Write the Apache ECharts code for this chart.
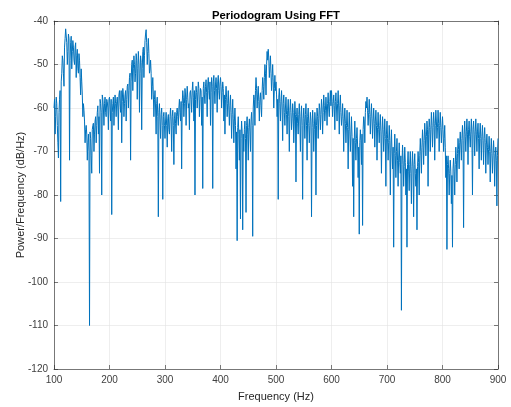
<!DOCTYPE html>
<html>
<head>
<meta charset="utf-8">
<script src="https://cdn.jsdelivr.net/npm/echarts@6/dist/echarts.min.js"></script>
<style>html,body{margin:0;padding:0;background:#fff;}#c{width:511px;height:407px;}</style>
</head>
<body>
<div id="c"></div>
<script>
// Frequency grid: 100 Hz to 900 Hz, 1 Hz step (even bins and odd bins kept in separate arrays)
const freqStart = 100;
const freqStep = 1;
const xTicks = [100, 200, 300, 400, 500, 600, 700, 800, 900];
const yTicks = [-120, -110, -100, -90, -80, -70, -60, -50, -40];

// Power/Frequency (dB/Hz) at even frequencies (100, 102, ... 900)
const p100 = [-60,-66,-57.5,-64,-71.5,-58,-81.5,-52,-49,-55,-44,-42,-50,-43,-72,-45,-51,-44.5,-49,-46,-53,-46.5,-52,-49,-57,-54,-62,-60.5,-68,-64,-72,-66,-110,-67,-75,-64,-70,-63,-68,-61,-66,-75,-59,-80,-58,-64,-57.5,-62,-58.5,-65];
const p200 = [-57.5,-63,-84.5,-59,-64,-57,-62,-57.5,-65,-56,-61,-68,-55.5,-62,-57,-63,-55,-60,-53,-72,-50,-56,-48,-54,-47.5,-58,-47,-61,-48,-65,-47,-53,-44.5,-42,-50,-44,-52,-49,-58,-53,-62,-56,-66,-57.5,-85,-59,-67,-60,-81,-61];
const p300 = [-67,-61,-69,-61.5,-66,-60,-70,-60.5,-73,-61,-66,-60,-64,-58,-63,-74,-56,-62,-55.5,-64,-55,-60,-65,-56,-61,-54,-63,-80,-55,-60,-54,-62,-55.5,-64,-78.5,-54,-59,-53.5,-62,-53,-58,-64,-53,-78.5,-52.5,-59,-53,-61,-52.5,-58];
const p400 = [-53,-60,-54,-63,-66,-55,-62,-56,-64,-57,-67,-58,-68,-60,-74,-90.5,-62,-72,-85.5,-63,-88,-70,-63,-84,-62,-72,-62.5,-70,-61,-89.5,-57,-64,-53,-60,-55,-63,-56.5,-62,-53,-58,-50,-57,-47,-46.5,-53,-48,-56,-50,-60,-52.5];
const p500 = [-54,-62,-81,-55.5,-63,-56,-67.5,-57,-64,-57.5,-66,-58,-70,-58,-65,-59,-68,-58.5,-77,-60,-66,-59,-70,-59.5,-81,-60,-67,-59,-72,-60,-68,-61,-85,-60.5,-70,-61,-80,-60,-67,-59,-65,-58,-66,-57,-63,-57.5,-64,-56.5,-62,-56];
const p600 = [-56,-62,-57,-65,-56.5,-63,-56,-66,-57,-64,-59,-70,-60,-68,-60.5,-74,-61,-70,-62,-78,-85,-63,-72,-64.5,-76,-89,-65,-73,-87,-62,-68,-58.5,-57.5,-64,-58,-66,-59,-67,-60,-69,-60.5,-72,-61,-68,-61.5,-75,-62,-70,-62.5,-78];
const p700 = [-63,-72,-64,-80,-65,-74,-92,-66,-76,-67,-78,-68,-75,-106.5,-68.5,-78,-69,-80,-92,-70,-79,-70,-82,-70,-85,-70.5,-78,-88,-70,-80,-67,-75,-65,-73,-63.5,-71,-63,-78,-62.5,-70,-61,-69,-61,-72,-60.5,-67,-60.5,-70,-61,-68];
const p800 = [-62,-70,-64,-76,-92.5,-71,-80,-72,-82,-92,-71.5,-80,-69,-77,-67,-74,-65.5,-72,-64,-87.5,-63,-70,-62.5,-73,-63,-69,-62.5,-80,-63,-71,-62.5,-70,-63.5,-74,-63.5,-72,-64,-73,-64.5,-75,-66,-73,-66.5,-77,-67,-75,-67.5,-78,-69,-82.5,-67];

// Power/Frequency (dB/Hz) at odd frequencies (101, 103, ... 899)
const q100 = [-58,-62,-59,-68,-61,-56,-54,-48,-52,-46,-41.8,-45,-47,-44,-49,-43.5,-47,-46,-50,-45,-48,-51,-47.5,-53,-51,-57,-59,-63,-65,-66,-68,-70,-65.5,-71,-65,-63.5,-66,-62,-64,-59.5,-62,-58,-61,-57,-60,-59,-61,-58,-60,-58];
const q200 = [-60,-58,-61,-57.5,-60,-59,-58.5,-60,-57,-59,-56,-58.5,-57,-59,-56,-58,-54.5,-56,-52,-54,-49,-51,-50,-52,-49,-51,-50,-52,-49.5,-51,-46,-48,-43,-45,-47,-47.5,-51,-52,-55,-57,-58,-60,-59,-62,-61,-63,-61.5,-64,-62,-64];
const q300 = [-63,-64,-62.5,-65,-62,-63,-62,-64,-62.5,-63.5,-61,-62,-60,-61,-58.5,-59,-57.5,-59,-57,-58,-57.5,-59,-56.5,-58,-56,-57.5,-56,-58,-56.5,-57,-55.5,-58,-56,-57.5,-55.5,-57,-55,-56.5,-54.5,-56,-54,-56.5,-55,-54,-56,-54.5,-55.5,-54,-56,-54.5];
const q400 = [-55,-56.5,-55.5,-57,-58,-57.5,-59,-60,-59.5,-61,-61.5,-62.5,-63,-64,-65.5,-64.5,-66,-65,-67,-65.5,-66,-65,-67,-64,-66,-64.5,-65.5,-63,-64,-60,-58,-56,-55.5,-57,-58.5,-58,-59.5,-56,-55,-53,-52,-50,-49,-48.5,-50.5,-52,-53,-54,-55.5,-56];
const q500 = [-57,-58,-57.5,-59,-58.5,-60,-59,-61,-60,-61.5,-60.5,-62,-60.5,-61,-62.5,-61,-63,-61.5,-62,-63.5,-61.5,-63,-62,-64,-62.5,-63,-61.5,-64,-62,-63.5,-64,-63,-64.5,-63.5,-65,-63,-64,-62,-62.5,-60.5,-61.5,-60,-61,-59.5,-60.5,-60,-59,-60,-58.5,-59.5];
const q600 = [-58.5,-59,-59.5,-58.5,-60,-59,-60,-59.5,-61,-62,-62.5,-63,-63.5,-64,-64.5,-65,-65.5,-66,-66.5,-67,-67.5,-68,-67,-68.5,-69,-68,-67.5,-66,-65,-63,-61,-60,-60.5,-61,-61.5,-62,-62.5,-63,-63.5,-63,-64,-64.5,-65,-64,-65.5,-66,-65,-66.5,-67,-66];
const q700 = [-67,-68,-67.5,-69,-70,-69,-70.5,-71,-70,-72,-71.5,-72.5,-71,-73,-72,-73.5,-72.5,-74,-73,-74.5,-73,-75,-73.5,-74,-73,-75,-74,-73.5,-72.5,-71,-70,-69,-68,-67.5,-66,-66.5,-65,-66,-64.5,-65,-64,-64.5,-63.5,-64,-63,-64.5,-63.5,-64,-64.5,-65];
const q800 = [-65,-67,-69,-71,-73,-74,-75,-74.5,-75.5,-74,-74.5,-73,-72,-70.5,-69.5,-68,-68.5,-67,-67.5,-66,-66.5,-65.5,-66,-65,-66.5,-65.5,-66,-65,-66,-65.5,-66,-65.5,-67,-66,-67,-66.5,-67.5,-67,-68,-68.5,-69,-69.5,-70,-70,-70.5,-71,-70.5,-71.5,-72,-71];

const evenPower = [].concat(p100, p200, p300, p400, p500, p600, p700, p800);
const oddPower = [].concat(q100, q200, q300, q400, q500, q600, q700, q800);
const power = [];
evenPower.forEach((v, i) => {
  power.push(v);
  if (i < oddPower.length) power.push(oddPower[i]);
});
const seriesData = power.map((v, i) => [freqStart + i * freqStep, v]);

const FONT = 'Liberation Sans';
const axisColor = '#262626';
const labelColor = '#404040';

const chart = echarts.init(document.getElementById('c'), null, {renderer: 'canvas'});
chart.setOption({
  animation: false,
  backgroundColor: '#ffffff',
  title: {
    text: 'Periodogram Using FFT',
    left: 271, top: 5, textAlign: 'center',
    textStyle: {fontFamily: FONT, fontSize: 11.3, fontWeight: 'bold', color: '#000'}
  },
  grid: {left: 54, right: 13, top: 21, bottom: 37, containLabel: false},
  xAxis: [{
    type: 'value', min: xTicks[0], max: xTicks[xTicks.length - 1], interval: 100,
    position: 'bottom',
    name: 'Frequency (Hz)', nameLocation: 'middle', nameGap: 22, nameMoveOverlap: false,
    nameTextStyle: {fontFamily: FONT, fontSize: 11, color: axisColor},
    axisLine: {show: true, onZero: false, lineStyle: {color: axisColor, width: 0.6}},
    axisTick: {show: true, inside: true, length: 4, lineStyle: {color: axisColor, width: 0.6}},
    axisLabel: {fontFamily: FONT, fontSize: 10, color: labelColor, margin: 6},
    splitLine: {show: true, lineStyle: {color: '#e3e3e3', width: 0.6}}
  }, {
    type: 'value', min: xTicks[0], max: xTicks[xTicks.length - 1], interval: 100,
    position: 'top',
    axisLine: {show: true, onZero: false, lineStyle: {color: axisColor, width: 0.6}},
    axisTick: {show: true, inside: true, length: 4, lineStyle: {color: axisColor, width: 0.6}},
    axisLabel: {show: false},
    splitLine: {show: false}
  }],
  yAxis: [{
    type: 'value', min: yTicks[0], max: yTicks[yTicks.length - 1], interval: 10,
    position: 'left',
    name: 'Power/Frequency (dB/Hz)', nameLocation: 'middle', nameGap: 28, nameMoveOverlap: false,
    nameTextStyle: {fontFamily: FONT, fontSize: 11, color: axisColor},
    axisLine: {show: true, onZero: false, lineStyle: {color: axisColor, width: 0.6}},
    axisTick: {show: true, inside: true, length: 4, lineStyle: {color: axisColor, width: 0.6}},
    axisLabel: {fontFamily: FONT, fontSize: 10, color: labelColor, margin: 6},
    splitLine: {show: true, lineStyle: {color: '#e3e3e3', width: 0.6}}
  }, {
    type: 'value', min: yTicks[0], max: yTicks[yTicks.length - 1], interval: 10,
    position: 'right',
    axisLine: {show: true, onZero: false, lineStyle: {color: axisColor, width: 0.6}},
    axisTick: {show: true, inside: true, length: 4, lineStyle: {color: axisColor, width: 0.6}},
    axisLabel: {show: false},
    splitLine: {show: false}
  }],
  series: [{
    type: 'line',
    xAxisIndex: 0, yAxisIndex: 0,
    data: seriesData,
    showSymbol: false,
    symbol: 'none',
    sampling: null,
    lineStyle: {color: '#0072BD', width: 1},
    emphasis: {disabled: true}
  }]
});
</script>
</body>
</html>
